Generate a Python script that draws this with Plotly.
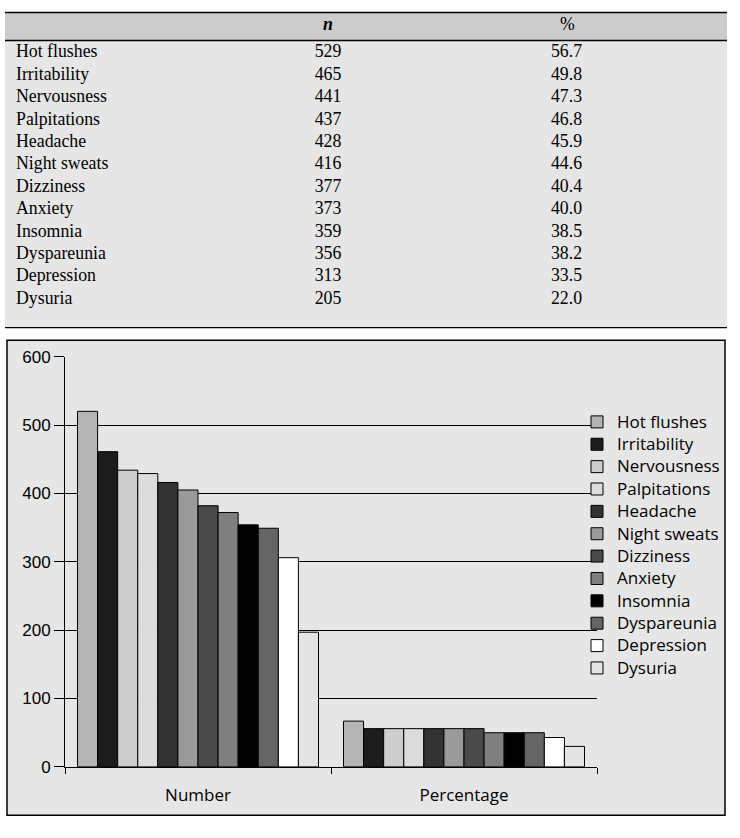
import plotly.graph_objects as go

# ---- data ----
symptoms = ["Hot flushes", "Irritability", "Nervousness", "Palpitations", "Headache",
            "Night sweats", "Dizziness", "Anxiety", "Insomnia", "Dyspareunia",
            "Depression", "Dysuria"]
table_n = [529, 465, 441, 437, 428, 416, 377, 373, 359, 356, 313, 205]
table_pct = [56.7, 49.8, 47.3, 46.8, 45.9, 44.6, 40.4, 40.0, 38.5, 38.2, 33.5, 22.0]
table_headers = ["<b><i>n</i></b>", "%"]

groups = ["Number", "Percentage"]
chart_number = [520, 461, 434, 429, 416, 405, 382, 372, 354, 349, 306, 197]
chart_percentage = [67, 56, 56, 56, 56, 56, 56, 50, 50, 50, 43, 30]

y_ticks = [0, 100, 200, 300, 400, 500, 600]

colors = ["#b4b4b4", "#1c1c1c", "#cdcdcd", "#dcdcdc", "#333333", "#9a9a9a",
          "#4a4a4a", "#7f7f7f", "#000000", "#656565", "#ffffff", "#e4e4e4"]

W, H = 740, 838
TFONT = 17.8


def px(x):
    return x / W


def py(y):
    return 1 - y / H


fig = go.Figure()

# ---- table (body rows) ----
fig.add_trace(go.Table(
    domain=dict(x=[px(8), px(727)], y=[py(326), py(0)]),
    columnwidth=[242, 156, 321],
    header=dict(
        values=["", "", ""],
        height=27.1,
        fill=dict(color="rgba(0,0,0,0)"),
        line=dict(width=0, color="rgba(0,0,0,0)"),
        font=dict(family="Liberation Serif", size=TFONT, color="black"),
    ),
    cells=dict(
        values=[symptoms, [str(v) for v in table_n], [f"{v:.1f}" for v in table_pct]],
        align=["left", "center", "center"],
        height=22.4,
        fill=dict(color="rgba(0,0,0,0)"),
        line=dict(width=0, color="rgba(0,0,0,0)"),
        font=dict(family="Liberation Serif", size=TFONT, color="black"),
    ),
))

# ---- bars ----
for i, s in enumerate(symptoms):
    fig.add_trace(go.Bar(
        x=groups,
        y=[chart_number[i], chart_percentage[i]],
        name=f'<span style="font-size:17px">{s}</span>',
        marker=dict(color=colors[i], line=dict(color="black", width=1)),
    ))

shapes = [
    # table background
    dict(type="rect", xref="paper", yref="paper", x0=px(5), x1=px(727), y0=py(326), y1=py(4),
         fillcolor="#e6e6e6", line=dict(width=0), layer="below"),
    dict(type="rect", xref="paper", yref="paper", x0=px(5), x1=px(727), y0=py(32), y1=py(4),
         fillcolor="#cccccc", line=dict(width=0), layer="below"),
    dict(type="line", xref="paper", yref="paper", x0=px(5), x1=px(727), y0=py(3.5), y1=py(3.5),
         line=dict(color="black", width=1.5), layer="below"),
    dict(type="line", xref="paper", yref="paper", x0=px(5), x1=px(727), y0=py(32.3), y1=py(32.3),
         line=dict(color="black", width=1.5), layer="below"),
    dict(type="line", xref="paper", yref="paper", x0=px(5), x1=px(727), y0=py(326), y1=py(326),
         line=dict(color="black", width=1.2), layer="below"),
    # chart box
    dict(type="rect", xref="paper", yref="paper", x0=px(7), x1=px(725), y0=py(825), y1=py(339),
         fillcolor="#e6e6e6", line=dict(color="black", width=1.5), layer="below"),
]

# column headings of the table
header_x = [328, 567]
annotations = [
    dict(text=t, xref="paper", yref="paper", x=px(hx), y=py(14.9),
         xanchor="center", yanchor="middle", showarrow=False,
         font=dict(family="Liberation Serif", size=TFONT, color="black"))
    for t, hx in zip(table_headers, header_x)
]

fig.update_layout(
    width=W, height=H,
    margin=dict(l=0, r=0, t=0, b=0),
    paper_bgcolor="white",
    plot_bgcolor="rgba(0,0,0,0)",
    barmode="group",
    bargap=0.094,
    bargroupgap=0,
    shapes=shapes,
    annotations=annotations,
    showlegend=True,
    legend=dict(
        x=px(577), y=py(405.9), xanchor="left", yanchor="top",
        bgcolor="rgba(0,0,0,0)", borderwidth=0,
        font=dict(family="Open Sans", size=14.9, color="black"),
        traceorder="normal",
    ),
    xaxis=dict(
        domain=[px(65), px(597)],
        type="category",
        showline=True, linecolor="black", linewidth=1,
        ticks="outside", ticklen=6, tickcolor="black", tickwidth=1,
        tickson="boundaries",
        showgrid=False,
        ticklabelstandoff=13,
        tickfont=dict(family="Open Sans", size=17, color="black"),
        anchor="y",
    ),
    yaxis=dict(
        domain=[py(775.5), py(355.7)],
        range=[0, 600],
        tickvals=y_ticks,
        showline=True, linecolor="black", linewidth=1,
        ticks="outside", ticklen=10, tickcolor="black", tickwidth=1,
        showgrid=True, gridcolor="black", gridwidth=1,
        zeroline=False,
        tickfont=dict(family="Liberation Sans", size=17, color="black"),
        anchor="x",
    ),
)

fig.write_html("out.html", config={"displayModeBar": False},
               post_script="document.body.style.margin='0';")
